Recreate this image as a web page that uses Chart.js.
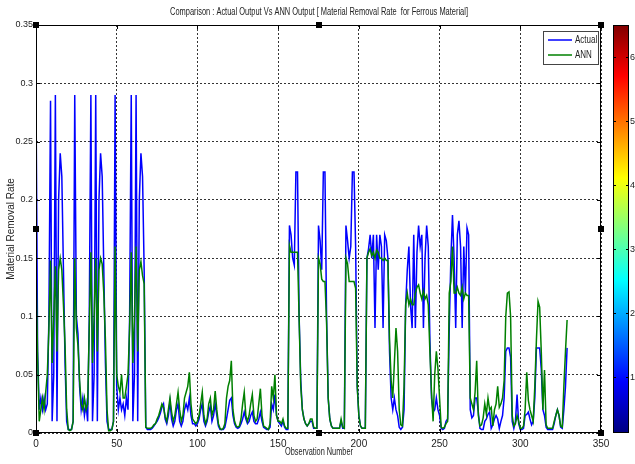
<!DOCTYPE html>
<html lang="en">
<head>
    <meta charset="UTF-8">
    <title>Comparison : Actual Output Vs ANN Output</title>
    <script src="https://cdn.jsdelivr.net/npm/chart.js"></script>
    <style>
        html, body { margin: 0; padding: 0; background: #fff; }
    </style>
</head>
<body>
    <canvas id="myChart" width="635" height="464"></canvas>
    <script>
        var FONT = "'Liberation Sans Narrow', 'Liberation Sans', Arial, sans-serif";

        var titleText = 'Comparison : Actual Output Vs ANN Output [ Material Removal Rate  for Ferrous Material]';
        var xLabel = 'Observation Number';
        var yLabel = 'Material Removal Rate';
        var seriesNames = ['Actual', 'ANN'];
        var xTicks = [0, 50, 100, 150, 200, 250, 300, 350];
        var yTicks = [0, 0.05, 0.1, 0.15, 0.2, 0.25, 0.3, 0.35];
        var colorbarTicks = [1, 2, 3, 4, 5, 6];

        var actual = [
            0.29, 0.07, 0.02, 0.03, 0.02, 0.03, 0.02, 0.025, 0.1, 0.285,
            0.01, 0.05, 0.29, 0.01, 0.2, 0.24, 0.22, 0.14, 0.06, 0.01,
            0.003, 0.003, 0.003, 0.01, 0.29, 0.1, 0.085, 0.04, 0.02, 0.03,
            0.015, 0.025, 0.01, 0.1, 0.29, 0.01, 0.05, 0.29, 0.01, 0.2,
            0.24, 0.22, 0.14, 0.06, 0.01, 0.003, 0.003, 0.003, 0.01, 0.29,
            0.04, 0.02, 0.03, 0.02, 0.025, 0.015, 0.03, 0.02, 0.1, 0.29,
            0.01, 0.05, 0.29, 0.01, 0.2, 0.24, 0.22, 0.14, 0.005, 0.003,
            0.003, 0.003, 0.004, 0.006, 0.008, 0.01, 0.013, 0.017, 0.022, 0.025,
            0.012, 0.008, 0.015, 0.027, 0.012, 0.006, 0.01, 0.02, 0.025, 0.01,
            0.006, 0.01, 0.02, 0.025, 0.02, 0.03, 0.015, 0.008, 0.008, 0.006,
            0.008, 0.012, 0.02, 0.025, 0.01, 0.006, 0.01, 0.018, 0.023, 0.01,
            0.015, 0.025, 0.015, 0.006, 0.003, 0.003, 0.003, 0.005, 0.012, 0.02,
            0.028, 0.03, 0.015, 0.008, 0.005, 0.004, 0.005, 0.008, 0.012, 0.018,
            0.012, 0.008, 0.01, 0.015, 0.018, 0.01, 0.008, 0.008, 0.012, 0.018,
            0.01, 0.005, 0.004, 0.003, 0.003, 0.005, 0.025, 0.02, 0.033, 0.015,
            0.01, 0.008, 0.006, 0.01, 0.005, 0.003, 0.003, 0.178, 0.17, 0.15,
            0.144, 0.224, 0.224, 0.1, 0.045, 0.02, 0.012, 0.008, 0.006, 0.008,
            0.01, 0.01, 0.004, 0.004, 0.004, 0.178, 0.165, 0.14, 0.224, 0.224,
            0.1, 0.03, 0.012, 0.006, 0.004, 0.004, 0.004, 0.004, 0.004, 0.01,
            0.004, 0.004, 0.178, 0.165, 0.15, 0.16, 0.224, 0.224, 0.16, 0.04,
            0.015, 0.006, 0.004, 0.004, 0.004, 0.15, 0.158, 0.17, 0.15, 0.17,
            0.09, 0.17, 0.14, 0.17, 0.16, 0.09, 0.17, 0.165, 0.15, 0.07,
            0.03, 0.02, 0.03, 0.02, 0.015, 0.005, 0.003, 0.005, 0.02, 0.11,
            0.14, 0.16, 0.11, 0.09, 0.17, 0.09, 0.155, 0.178, 0.16, 0.17,
            0.09, 0.15, 0.178, 0.16, 0.08, 0.03, 0.018, 0.02, 0.03, 0.02,
            0.015, 0.004, 0.003, 0.004, 0.01, 0.012, 0.09, 0.15, 0.187, 0.15,
            0.09, 0.17, 0.182, 0.16, 0.09, 0.16, 0.12, 0.176, 0.17, 0.02,
            0.013, 0.015, 0.03, 0.03, 0.018, 0.004, 0.003, 0.003, 0.01, 0.012,
            0.016, 0.018, 0.004, 0.007, 0.012, 0.015, 0.012, 0.004, 0.01, 0.015,
            0.03, 0.07, 0.073, 0.073, 0.065, 0.01, 0.004, 0.01, 0.033, 0.008,
            0.003, 0.003, 0.004, 0.015, 0.016, 0.018, 0.012, 0.007, 0.01, 0.03,
            0.073, 0.073, 0.073, 0.055, 0.02, 0.015, 0.005, 0.003, 0.003, 0.003,
            0.003, 0.008, 0.015, 0.02, 0.015, 0.005, 0.004, 0.02, 0.04, 0.073
        ];

        var ann = [
            0.145, 0.065, 0.01, 0.02, 0.03, 0.02, 0.035, 0.05, 0.09, 0.148,
            0.06, 0.1, 0.143, 0.07, 0.14, 0.15, 0.14, 0.11, 0.075, 0.02,
            0.003, 0.002, 0.003, 0.01, 0.15, 0.09, 0.075, 0.045, 0.025, 0.02,
            0.03, 0.02, 0.025, 0.09, 0.155, 0.06, 0.1, 0.15, 0.07, 0.14,
            0.15, 0.145, 0.12, 0.08, 0.02, 0.002, 0.002, 0.003, 0.01, 0.16,
            0.05, 0.04, 0.035, 0.05, 0.03, 0.03, 0.04, 0.05, 0.09, 0.155,
            0.06, 0.1, 0.16, 0.07, 0.14, 0.147, 0.135, 0.128, 0.005, 0.004,
            0.004, 0.004, 0.005, 0.007, 0.008, 0.012, 0.015, 0.02, 0.025, 0.022,
            0.014, 0.01, 0.02, 0.03, 0.018, 0.01, 0.015, 0.025, 0.035, 0.02,
            0.01, 0.015, 0.03, 0.035, 0.04, 0.052, 0.025, 0.012, 0.01, 0.008,
            0.01, 0.015, 0.025, 0.035, 0.015, 0.008, 0.012, 0.025, 0.03, 0.015,
            0.02, 0.036, 0.02, 0.008, 0.004, 0.003, 0.004, 0.008, 0.03, 0.04,
            0.045, 0.062, 0.02, 0.01, 0.006, 0.005, 0.006, 0.012, 0.025, 0.035,
            0.015, 0.01, 0.015, 0.025, 0.033, 0.015, 0.01, 0.012, 0.025, 0.038,
            0.015, 0.006, 0.005, 0.004, 0.003, 0.008, 0.04, 0.03, 0.05, 0.015,
            0.01, 0.01, 0.008, 0.012, 0.006, 0.004, 0.004, 0.161, 0.155, 0.155,
            0.155, 0.155, 0.155, 0.098, 0.04, 0.02, 0.012, 0.008, 0.006, 0.008,
            0.012, 0.012, 0.005, 0.004, 0.004, 0.15, 0.145, 0.132, 0.13, 0.13,
            0.095, 0.03, 0.012, 0.006, 0.004, 0.004, 0.004, 0.004, 0.004, 0.012,
            0.005, 0.004, 0.15, 0.145, 0.13, 0.13, 0.13, 0.13, 0.124, 0.04,
            0.015, 0.006, 0.004, 0.004, 0.004, 0.15, 0.155, 0.158, 0.152, 0.155,
            0.15, 0.157, 0.155, 0.15, 0.15, 0.148, 0.15, 0.148, 0.148, 0.08,
            0.045, 0.03, 0.06, 0.09, 0.07, 0.02, 0.007, 0.006, 0.04, 0.11,
            0.12, 0.11, 0.115, 0.11, 0.11, 0.12, 0.125, 0.127, 0.12, 0.115,
            0.122, 0.115, 0.118, 0.11, 0.07, 0.035, 0.01, 0.05, 0.07, 0.055,
            0.03, 0.005, 0.004, 0.005, 0.008, 0.01, 0.12, 0.13, 0.16, 0.12,
            0.12, 0.125, 0.12, 0.118, 0.125, 0.115, 0.12, 0.118, 0.118, 0.03,
            0.025, 0.02, 0.035, 0.062, 0.015, 0.006, 0.007, 0.013, 0.025, 0.016,
            0.03, 0.02, 0.022, 0.006, 0.02, 0.025, 0.04, 0.022, 0.025, 0.03,
            0.045, 0.1, 0.12, 0.121, 0.1, 0.015, 0.006, 0.008, 0.015, 0.01,
            0.004, 0.004, 0.006, 0.02, 0.052, 0.028, 0.02, 0.015, 0.01, 0.04,
            0.08, 0.113, 0.108, 0.07, 0.02, 0.054, 0.007, 0.004, 0.004, 0.004,
            0.004, 0.01, 0.015, 0.02, 0.015, 0.006, 0.005, 0.04, 0.07, 0.097
        ];

        function toPoints(values) {
            return values.map(function (v, i) { return { x: i, y: v }; });
        }

        // jet colour map, bottom (dark blue) to top (dark red)
        function jetGradient(ctx, top, bottom) {
            var g = ctx.createLinearGradient(0, bottom, 0, top);
            g.addColorStop(0, '#000080');
            g.addColorStop(0.125, '#0000ff');
            g.addColorStop(0.375, '#00ffff');
            g.addColorStop(0.625, '#ffff00');
            g.addColorStop(0.875, '#ff0000');
            g.addColorStop(1, '#800000');
            return g;
        }

        // text squeezed to a given width (the original uses a narrow font)
        function narrowText(ctx, text, cx, cy, width, size) {
            ctx.save();
            ctx.font = size + 'px ' + FONT;
            ctx.textAlign = 'center';
            ctx.textBaseline = 'middle';
            var w = ctx.measureText(text).width;
            var k = Math.min(1, width / w);
            ctx.translate(cx, cy);
            ctx.scale(k, 1);
            ctx.fillStyle = '#222';
            ctx.fillText(text, 0, 0);
            ctx.restore();
        }

        var matlabFrame = {
            id: 'matlabFrame',
            afterDraw: function (chart) {
                var ctx = chart.ctx;
                var a = chart.chartArea;
                var xs = chart.scales.x, ys = chart.scales.y, cb = chart.scales.cb;
                ctx.save();

                // axes box
                ctx.strokeStyle = '#000';
                ctx.lineWidth = 1;
                ctx.strokeRect(a.left + 0.5, a.top + 0.5, a.right - a.left - 1, a.bottom - a.top - 1);

                // small inward ticks
                ctx.beginPath();
                xTicks.forEach(function (t) {
                    var px = Math.round(xs.getPixelForValue(t)) + 0.5;
                    ctx.moveTo(px, a.bottom); ctx.lineTo(px, a.bottom - 4);
                    ctx.moveTo(px, a.top); ctx.lineTo(px, a.top + 4);
                });
                yTicks.forEach(function (t) {
                    var py = Math.round(ys.getPixelForValue(t)) + 0.5;
                    ctx.moveTo(a.left, py); ctx.lineTo(a.left + 4, py);
                    ctx.moveTo(a.right, py); ctx.lineTo(a.right - 4, py);
                });
                ctx.stroke();

                // selection handles
                ctx.fillStyle = '#000';
                var midX = Math.round((a.left + a.right) / 2), midY = Math.round((a.top + a.bottom) / 2);
                [[a.left, a.top], [midX, a.top], [a.right, a.top],
                 [a.left, midY], [a.right, midY],
                 [a.left, a.bottom], [midX, a.bottom], [a.right, a.bottom]].forEach(function (p) {
                    ctx.fillRect(p[0] - 3, p[1] - 3, 6, 6);
                });

                // title and x label
                narrowText(ctx, titleText, midX, 12, 298, 10);
                narrowText(ctx, xLabel, midX, 452, 68, 10);

                // legend
                var lx = 543, ly = 31, lw = 55, lh = 33;
                ctx.fillStyle = '#fff';
                ctx.fillRect(lx, ly, lw, lh);
                ctx.strokeStyle = '#444';
                ctx.strokeRect(lx + 0.5, ly + 0.5, lw, lh);
                chart.data.datasets.forEach(function (ds, i) {
                    var yy = ly + 9 + i * 15;
                    ctx.strokeStyle = ds.borderColor;
                    ctx.lineWidth = 1.5;
                    ctx.beginPath();
                    ctx.moveTo(lx + 5, yy); ctx.lineTo(lx + 29, yy);
                    ctx.stroke();
                    ctx.save();
                    ctx.font = '10px ' + FONT;
                    ctx.textBaseline = 'middle';
                    ctx.textAlign = 'left';
                    ctx.translate(lx + 32, yy);
                    ctx.scale(0.8, 1);
                    ctx.fillStyle = '#222';
                    ctx.fillText(ds.label, 0, 0);
                    ctx.restore();
                });

                // colour bar
                var cbL = 613, cbR = 629;
                var cbTop = cb.top, cbBot = cb.bottom;
                ctx.fillStyle = jetGradient(ctx, cbTop, cbBot);
                ctx.fillRect(cbL, cbTop, cbR - cbL, cbBot - cbTop);
                ctx.strokeStyle = '#000';
                ctx.lineWidth = 1;
                ctx.strokeRect(cbL + 0.5, cbTop + 0.5, cbR - cbL - 1, cbBot - cbTop - 1);
                ctx.font = '9px ' + FONT;
                ctx.fillStyle = '#222';
                ctx.textAlign = 'left';
                ctx.textBaseline = 'middle';
                ctx.beginPath();
                colorbarTicks.forEach(function (t) {
                    var py = Math.round(cb.getPixelForValue(t)) + 0.5;
                    ctx.moveTo(cbL, py); ctx.lineTo(cbL + 3, py);
                    ctx.moveTo(cbR, py); ctx.lineTo(cbR - 3, py);
                    ctx.fillText(String(t), cbR + 1, py);
                });
                ctx.stroke();

                ctx.restore();
            }
        };

        var ctx = document.getElementById('myChart').getContext('2d');
        var myChart = new Chart(ctx, {
            type: 'line',
            data: {
                datasets: [
                    {
                        label: seriesNames[0],
                        data: toPoints(actual),
                        borderColor: '#0000ff',
                        borderWidth: 1.5,
                        pointRadius: 0,
                        tension: 0,
                        fill: false,
                        order: 1
                    },
                    {
                        label: seriesNames[1],
                        data: toPoints(ann),
                        borderColor: '#008000',
                        borderWidth: 1.5,
                        pointRadius: 0,
                        tension: 0,
                        fill: false,
                        order: 0
                    }
                ]
            },
            options: {
                responsive: false,
                animation: false,
                devicePixelRatio: 1,
                layout: { padding: { left: 0, right: 34, top: 25, bottom: 0 } },
                plugins: {
                    legend: { display: false },
                    tooltip: { enabled: false },
                    title: { display: false }
                },
                scales: {
                    x: {
                        type: 'linear',
                        min: 0,
                        max: 350,
                        afterBuildTicks: function (s) { s.ticks = xTicks.map(function (v) { return { value: v }; }); },
                        afterFit: function (s) { s.height = 31; },
                        ticks: { color: '#222', padding: 5, maxRotation: 0, font: { family: FONT, size: 10 } },
                        grid: { color: '#000', lineWidth: 0.8, drawTicks: false },
                        border: { display: false, dash: [2, 2] }
                    },
                    y: {
                        type: 'linear',
                        min: 0,
                        max: 0.35,
                        afterBuildTicks: function (s) { s.ticks = yTicks.map(function (v) { return { value: v }; }); },
                        afterFit: function (s) { s.width = 36; },
                        ticks: {
                            color: '#222',
                            padding: 3,
                            font: { family: FONT, size: 9 },
                            callback: function (v) { return String(Math.round(v * 100) / 100); }
                        },
                        grid: { color: '#000', lineWidth: 0.8, drawTicks: false },
                        border: { display: false, dash: [2, 2] },
                        title: {
                            display: true,
                            text: yLabel,
                            color: '#222',
                            font: { family: FONT, size: 10, lineHeight: 1.2 },
                            padding: { top: 5, bottom: 0 }
                        }
                    },
                    cb: {
                        type: 'linear',
                        position: 'right',
                        display: false,
                        min: 0.125,
                        max: 6.5
                    }
                }
            },
            plugins: [matlabFrame]
        });
    </script>
</body>
</html>
